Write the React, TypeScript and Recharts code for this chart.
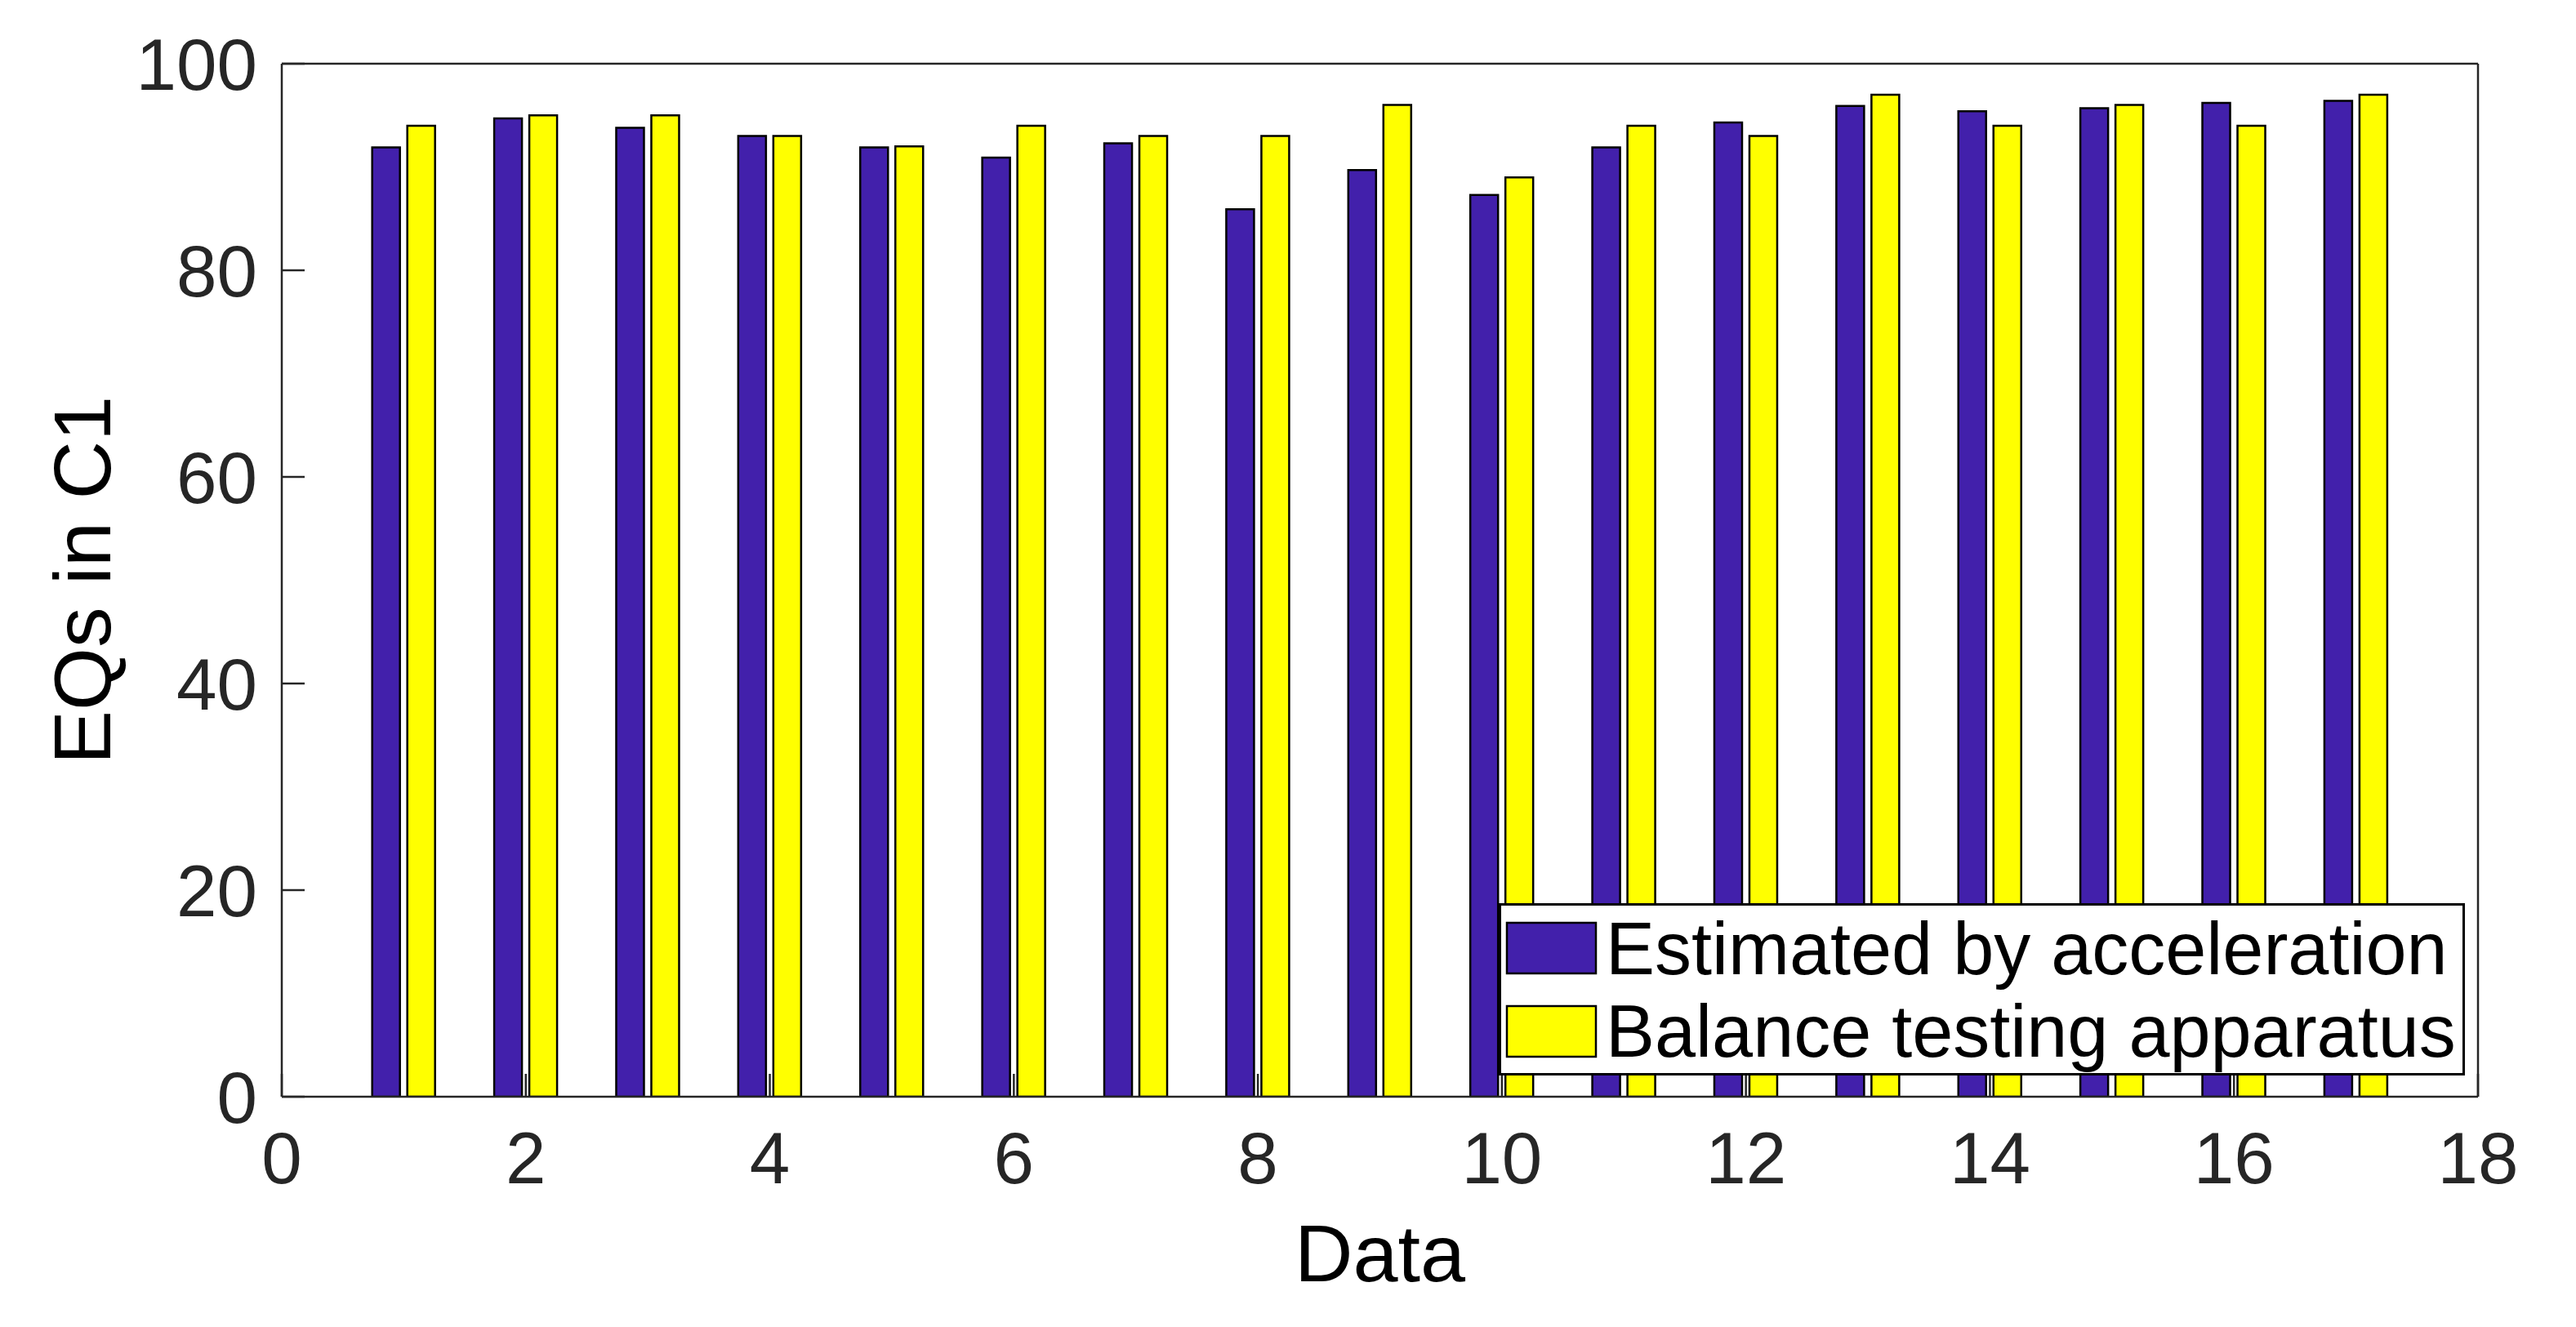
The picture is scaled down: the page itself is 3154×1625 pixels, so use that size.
import React from "react";
import {
  BarChart,
  Bar,
  XAxis,
  YAxis,
  Legend,
  Label,
} from "recharts";

const FONT = '"Liberation Sans", Arial, Helvetica, sans-serif';
const INK = "#262626";

// samples 1..17
const samples = [1, 2, 3, 4, 5, 6, 7, 8, 9, 10, 11, 12, 13, 14, 15, 16, 17];
const estimated = [
  91.9, 94.7, 93.8, 93.0, 91.9, 90.9, 92.3, 85.9, 89.7, 87.3, 91.9, 94.3, 95.9,
  95.4, 95.7, 96.2, 96.4,
];
const balance = [
  94, 95, 95, 93, 92, 94, 93, 93, 96, 89, 94, 93, 97, 94, 96, 94, 97,
];
const seriesNames = ["Estimated by acceleration", "Balance testing apparatus"];

const xTicks = [0, 2, 4, 6, 8, 10, 12, 14, 16, 18];
const yTicks = [0, 20, 40, 60, 80, 100];

const data = samples.map((x, i) => ({
  x,
  est: estimated[i],
  bal: balance[i],
}));

const tickStyle = { fill: INK, fontSize: 89, fontFamily: FONT };

const YTitle = ({ viewBox }: any) => {
  const cx = viewBox.x + 135;
  const cy = viewBox.y + viewBox.height / 2;
  return (
    <text
      x={cx}
      y={cy}
      transform={`rotate(-90, ${cx}, ${cy})`}
      textAnchor="middle"
      fill="#000"
      fontSize={99}
      fontFamily={FONT}
    >
      EQs in C1
    </text>
  );
};

const XTitle = ({ viewBox }: any) => (
  <text
    x={viewBox.x + viewBox.width / 2}
    y={viewBox.y + 226}
    textAnchor="middle"
    fill="#000"
    fontSize={99}
    fontFamily={FONT}
  >
    Data
  </text>
);

const LegendBox = ({ payload }: any) => {
  // keep the plotting order, recharts sorts the payload by name
  const items = seriesNames
    .map((n) => (payload || []).find((p: any) => p.value === n))
    .filter(Boolean);
  return (
    <svg width={1183} height={211} style={{ display: "block" }}>
      <rect
        x={1.5}
        y={1.5}
        width={1180}
        height={208}
        fill="#fff"
        stroke="#000"
        strokeWidth={3}
      />
      {items.map((p: any, i: number) => (
        <g key={p.value}>
          <rect
            x={10}
            y={24 + i * 102}
            width={109}
            height={62}
            fill={p.color}
            stroke="#000"
            strokeWidth={2.5}
          />
          <text
            x={131}
            y={87 + i * 101}
            fill="#000"
            fontSize={90}
            fontFamily={FONT}
          >
            {p.value}
          </text>
        </g>
      ))}
    </svg>
  );
};

export default function App() {
  return (
    <div
      style={{
        position: "absolute",
        left: 0,
        top: 0,
        width: 3154,
        height: 1625,
        background: "#fff",
      }}
    >
      <BarChart
        width={3154}
        height={1625}
        data={data}
        margin={{ top: 0, right: 0, bottom: 0, left: 0 }}
        barSize={34}
        barGap={9}
      >
        <XAxis
          dataKey="x"
          type="number"
          domain={[0, 18]}
          ticks={xTicks}
          allowDataOverflow
          height={282}
          stroke={INK}
          strokeWidth={2.5}
          tickSize={-28}
          tickMargin={71}
          tick={tickStyle}
        >
          <Label content={<XTitle />} />
        </XAxis>
        <XAxis
          xAxisId="top"
          orientation="top"
          dataKey="x"
          type="number"
          domain={[0, 18]}
          ticks={xTicks}
          allowDataOverflow
          height={78}
          stroke={INK}
          strokeWidth={2.5}
          tickSize={-28}
          tick={false}
        />
        <YAxis
          type="number"
          domain={[0, 100]}
          ticks={yTicks}
          allowDataOverflow
          width={345}
          stroke={INK}
          strokeWidth={2.5}
          tickSize={-28}
          tickMargin={58}
          tick={tickStyle}
        >
          <Label content={<YTitle />} />
        </YAxis>
        <YAxis
          yAxisId="right"
          orientation="right"
          type="number"
          domain={[0, 100]}
          ticks={yTicks}
          allowDataOverflow
          width={120}
          stroke={INK}
          strokeWidth={2.5}
          tickSize={-28}
          tick={false}
        />
        <Legend
          layout="horizontal"
          verticalAlign="middle"
          align="center"
          content={<LegendBox />}
          wrapperStyle={{ left: 1835, top: 1106, width: 1183, height: 211 }}
        />
        <Bar
          dataKey="est"
          name={seriesNames[0]}
          fill="#4220AB"
          stroke="#000"
          strokeWidth={2.5}
          isAnimationActive={false}
        />
        <Bar
          dataKey="bal"
          name={seriesNames[1]}
          fill="#FFFF00"
          stroke="#000"
          strokeWidth={2.5}
          isAnimationActive={false}
        />
      </BarChart>
    </div>
  );
}
